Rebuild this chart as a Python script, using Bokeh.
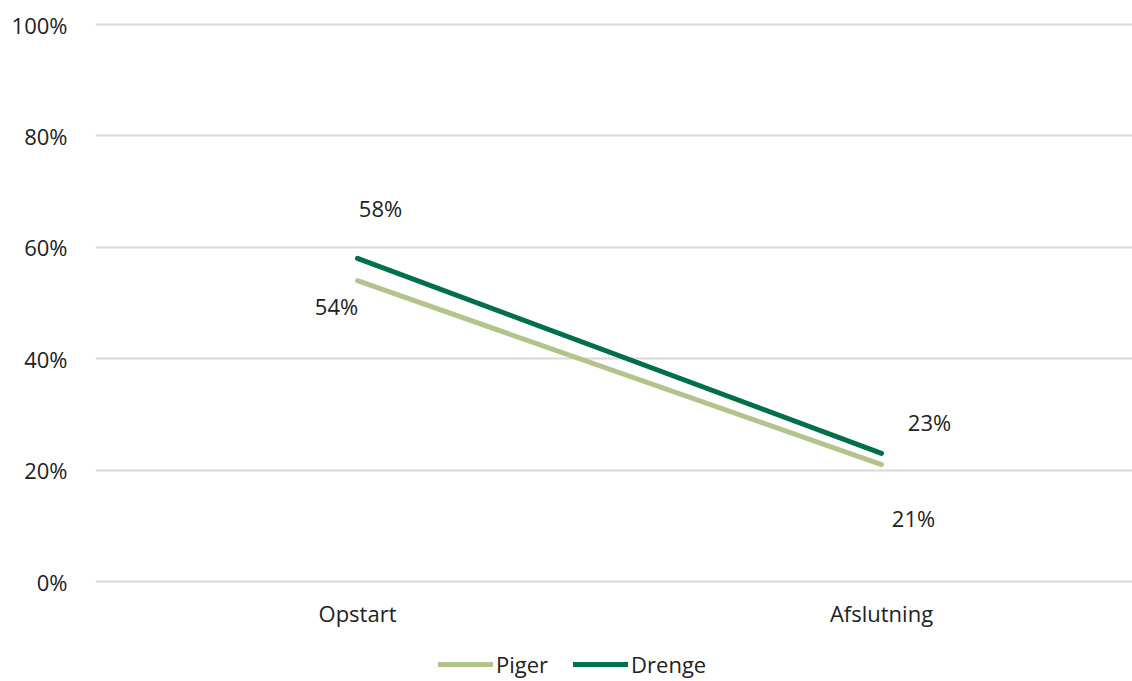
from bokeh.plotting import figure
from bokeh.models import Range1d, FixedTicker, Legend, LegendItem, ColumnDataSource
from bokeh.core.properties import value
from bokeh.embed import file_html
from bokeh.resources import INLINE

categories = ["Opstart", "Afslutning"]
piger = [54, 21]
drenge = [58, 23]
y_ticks = [0, 20, 40, 60, 80, 100]

FONT = "Open Sans"
FS = "22px"
piger_color = "#B3C38C"
drenge_color = "#00704A"
text_color = "#222222"

xs = list(range(len(categories)))

p = figure(frame_width=1037, frame_height=660, output_backend="svg", toolbar_location=None,
           x_range=Range1d(-0.5, 1.479), y_range=Range1d(-17.95, 100.54),
           min_border_left=95, min_border_right=0, min_border_top=21, min_border_bottom=0)
p.outline_line_color = None
p.background_fill_color = "white"
p.border_fill_color = "white"

p.xgrid.grid_line_color = None
p.ygrid.grid_line_color = "#D9D9D9"
p.ygrid.grid_line_width = 2
p.xaxis.visible = False
p.yaxis.ticker = FixedTicker(ticks=y_ticks)
p.yaxis.major_label_overrides = {v: f"{v}%" for v in y_ticks}
ax = p.yaxis[0]
ax.axis_line_color = None
ax.major_tick_line_color = None
ax.minor_tick_line_color = None
ax.major_label_text_font = FONT
ax.major_label_text_font_size = FS
ax.major_label_text_color = text_color
ax.major_label_standoff = 22

# category labels under the 0% gridline
p.text(x=xs, y=[0] * len(xs), text=categories, y_offset=31,
       text_font=value(FONT), text_font_size=FS, text_color=text_color,
       text_align="center", text_baseline="middle")

r_p = p.line(xs, piger, line_color=piger_color, line_width=5, line_cap="round")
r_d = p.line(xs, drenge, line_color=drenge_color, line_width=5, line_cap="round")

lab_src = ColumnDataSource(dict(
    x=xs + xs,
    y=piger + drenge,
    text=[f"{v}%" for v in piger + drenge],
    xo=[-21, 32, 23, 48],
    yo=[25, 53, -50, -31],
))
p.text(x="x", y="y", text="text", x_offset="xo", y_offset="yo", source=lab_src,
       text_font=value(FONT), text_font_size=FS, text_color=text_color,
       text_align="center", text_baseline="middle")

legend = Legend(items=[LegendItem(label="Piger", renderers=[r_p]),
                       LegendItem(label="Drenge", renderers=[r_d])],
                orientation="horizontal", location=(343, 2),
                label_text_font=FONT, label_text_font_size=FS, label_text_color=text_color,
                glyph_width=55, glyph_height=24, label_standoff=3, spacing=25,
                border_line_color=None, background_fill_alpha=0, padding=0, margin=0)
p.add_layout(legend, "center")

open("out.html", "w").write(file_html(p, INLINE))
